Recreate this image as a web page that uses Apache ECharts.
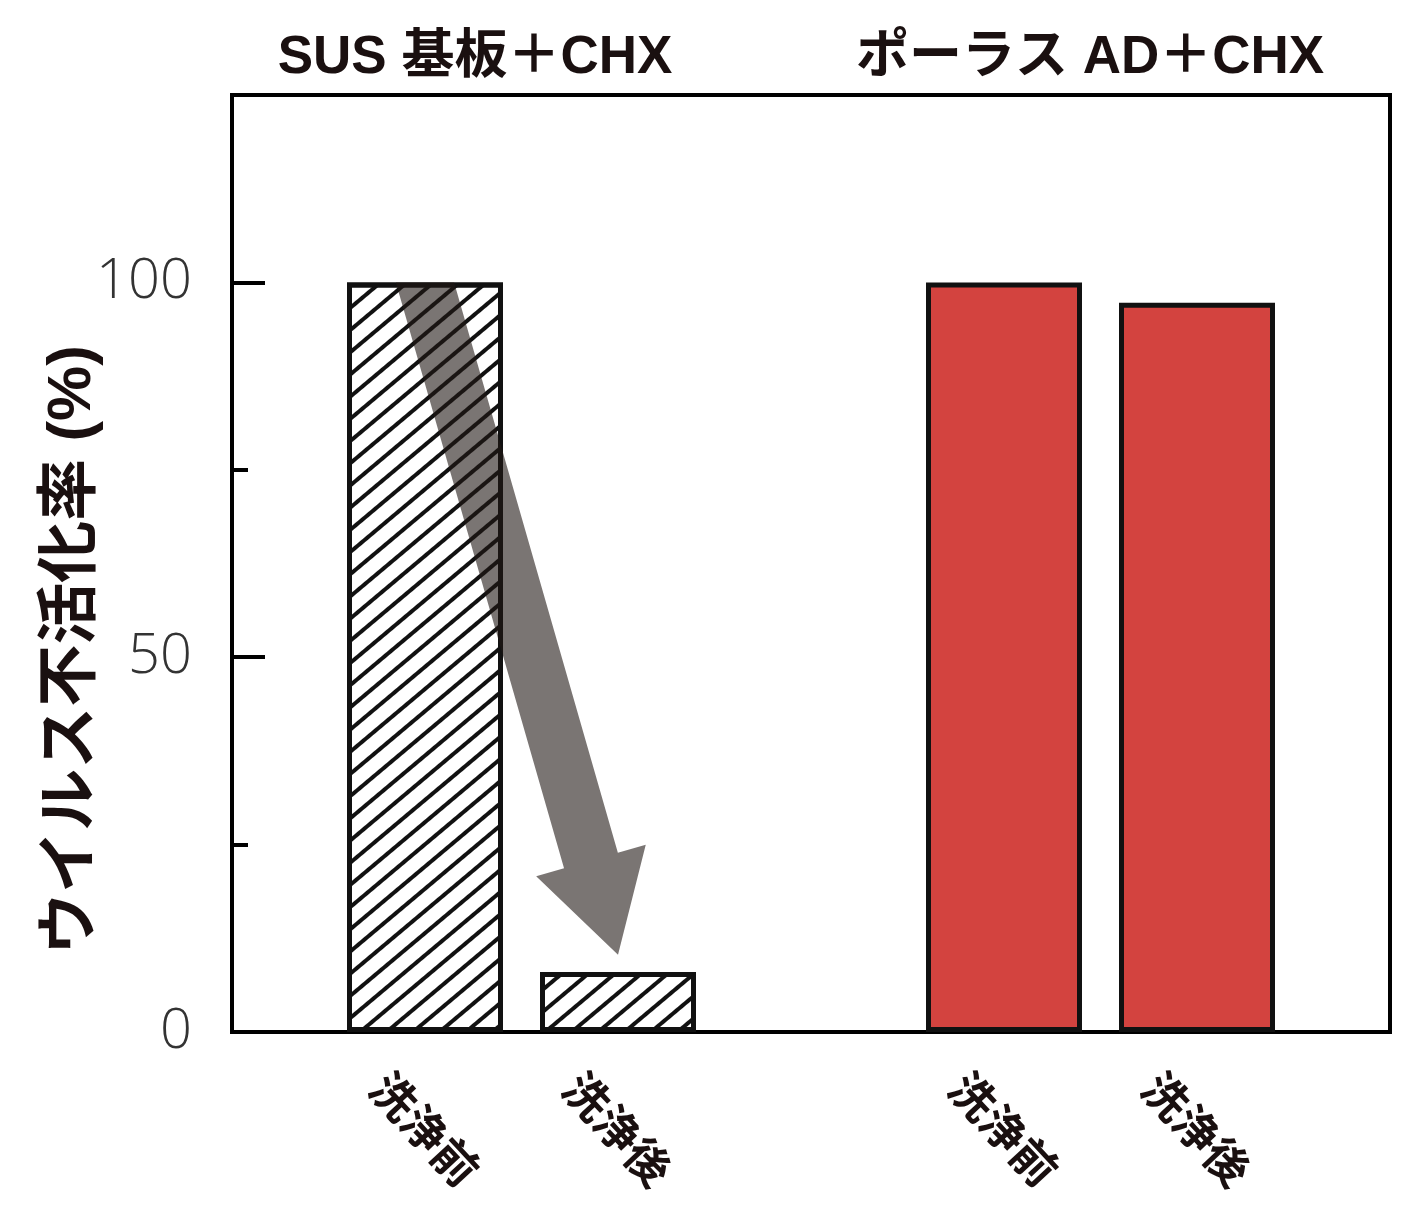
<!DOCTYPE html>
<html>
<head>
<meta charset="utf-8">
<script src="https://cdn.jsdelivr.net/npm/echarts@6/dist/echarts.min.js"></script>
<style>
html,body{margin:0;padding:0;background:#fff;}
#chart{width:1408px;height:1216px;}
</style>
</head>
<body>
<div id="chart"></div>
<script>
// ---- data ----
var categories = ['', '洗浄前', '洗浄後', '', '洗浄前', '洗浄後', ''];
var susValues = ['-', 100, 8, '-', '-', '-', '-'];
var porousValues = ['-', '-', '-', '-', 100, 97.3, '-'];
var groupTitles = ['SUS 基板＋CHX', 'ポーラス AD＋CHX'];
var yAxisName = 'ウイルス不活化率 (%)';
var yLabelValues = [0, 50, 100];
var arrowFrom = [1.08, 100];
var arrowTo = [1.97, 10.3];

var chart = echarts.init(document.getElementById('chart'));
var cjkBold = "'Liberation Sans','Noto Sans CJK JP',sans-serif";

var option = {
  backgroundColor: '#fff',
  animation: false,
  grid: {
    left: 232, right: 18, top: 95, bottom: 184,
    show: true, borderColor: '#000', borderWidth: 4, backgroundColor: 'transparent'
  },
  xAxis: {
    type: 'category',
    data: categories,
    boundaryGap: false,
    axisLine: { lineStyle: { color: '#000', width: 4 } },
    axisTick: { show: false },
    splitLine: { show: false },
    axisLabel: {
      interval: 0,
      rotate: -47,
      align: 'center',
      verticalAlign: 'middle',
      margin: 97,
      fontSize: 45,
      fontWeight: 'bold',
      color: '#1a1010',
      fontFamily: "'Noto Sans CJK JP',sans-serif"
    }
  },
  yAxis: [{
    type: 'value',
    min: 0, max: 125, interval: 50,
    axisLine: { show: true, lineStyle: { color: '#000', width: 4 } },
    axisTick: { show: true, inside: true, length: 33, lineStyle: { color: '#000', width: 4 } },
    splitLine: { show: false },
    axisLabel: {
      showMaxLabel: false,
      margin: 40,
      fontSize: 56,
      fontWeight: 300,
      color: '#333',
      fontFamily: "'Open Sans','Noto Sans',sans-serif",
      formatter: function (v) { return yLabelValues.indexOf(v) >= 0 ? String(v) : ''; }
    }
  }, {
    type: 'value',
    position: 'left',
    min: 0, max: 125, interval: 25,
    axisLine: { show: false },
    axisTick: { show: true, inside: true, length: 16, lineStyle: { color: '#000', width: 4 } },
    axisLabel: { show: false },
    splitLine: { show: false }
  }],
  series: [{
    type: 'custom',
    z: 5,
    data: [[arrowFrom[0], arrowFrom[1], arrowTo[0], arrowTo[1]]],
    renderItem: function (params, api) {
      var p0 = api.coord([api.value(0), api.value(1)]);
      var p1 = api.coord([api.value(2), api.value(3)]);
      var dx = p1[0] - p0[0], dy = p1[1] - p0[1];
      var len = Math.sqrt(dx * dx + dy * dy);
      var ux = dx / len, uy = dy / len;
      var nx = -uy, ny = ux;
      var w = 28, hw = 57, hl = 98;
      var bx = p1[0] - ux * hl, by = p1[1] - uy * hl;
      var ta = -(ny * w) / uy, tb = (ny * w) / uy;
      var pts = [
        [p0[0] + nx * w + ux * ta, p0[1]],
        [bx + nx * w, by + ny * w],
        [bx + nx * hw, by + ny * hw],
        [p1[0], p1[1]],
        [bx - nx * hw, by - ny * hw],
        [bx - nx * w, by - ny * w],
        [p0[0] - nx * w + ux * tb, p0[1]]
      ];
      return { type: 'polygon', shape: { points: pts }, style: { fill: 'rgba(33,25,22,0.6)' } };
    }
  }, {
    type: 'bar',
    z: 3,
    data: susValues,
    barWidth: 156,
    barGap: '-100%',
    itemStyle: {
      color: '#fff',
      borderColor: '#111',
      borderWidth: 5,
      decal: {
        symbol: 'rect',
        symbolSize: 1,
        color: '#111',
        dashArrayX: [1, 0],
        dashArrayY: [4, 13],
        rotation: -Math.PI / 4.5
      }
    }
  }, {
    type: 'bar',
    z: 3,
    data: porousValues,
    barWidth: 156,
    barGap: '-100%',
    itemStyle: { color: '#d3433f', borderColor: '#111', borderWidth: 5 }
  }],
  graphic: [{
    type: 'text', x: 475, y: 58,
    style: { text: groupTitles[0], font: 'bold 53px ' + cjkBold, fill: '#1a1010', textAlign: 'center', textVerticalAlign: 'middle', align: 'center', verticalAlign: 'middle' }
  }, {
    type: 'text', x: 1090, y: 58,
    style: { text: groupTitles[1], font: 'bold 53px ' + cjkBold, fill: '#1a1010', textAlign: 'center', textVerticalAlign: 'middle', align: 'center', verticalAlign: 'middle' }
  }, {
    type: 'text', x: 73, y: 650, rotation: Math.PI / 2,
    style: { text: yAxisName, font: 'bold 62px ' + cjkBold, fill: '#1a1010', textAlign: 'center', textVerticalAlign: 'middle', align: 'center', verticalAlign: 'middle' }
  }]
};
chart.setOption(option);
</script>
</body>
</html>
